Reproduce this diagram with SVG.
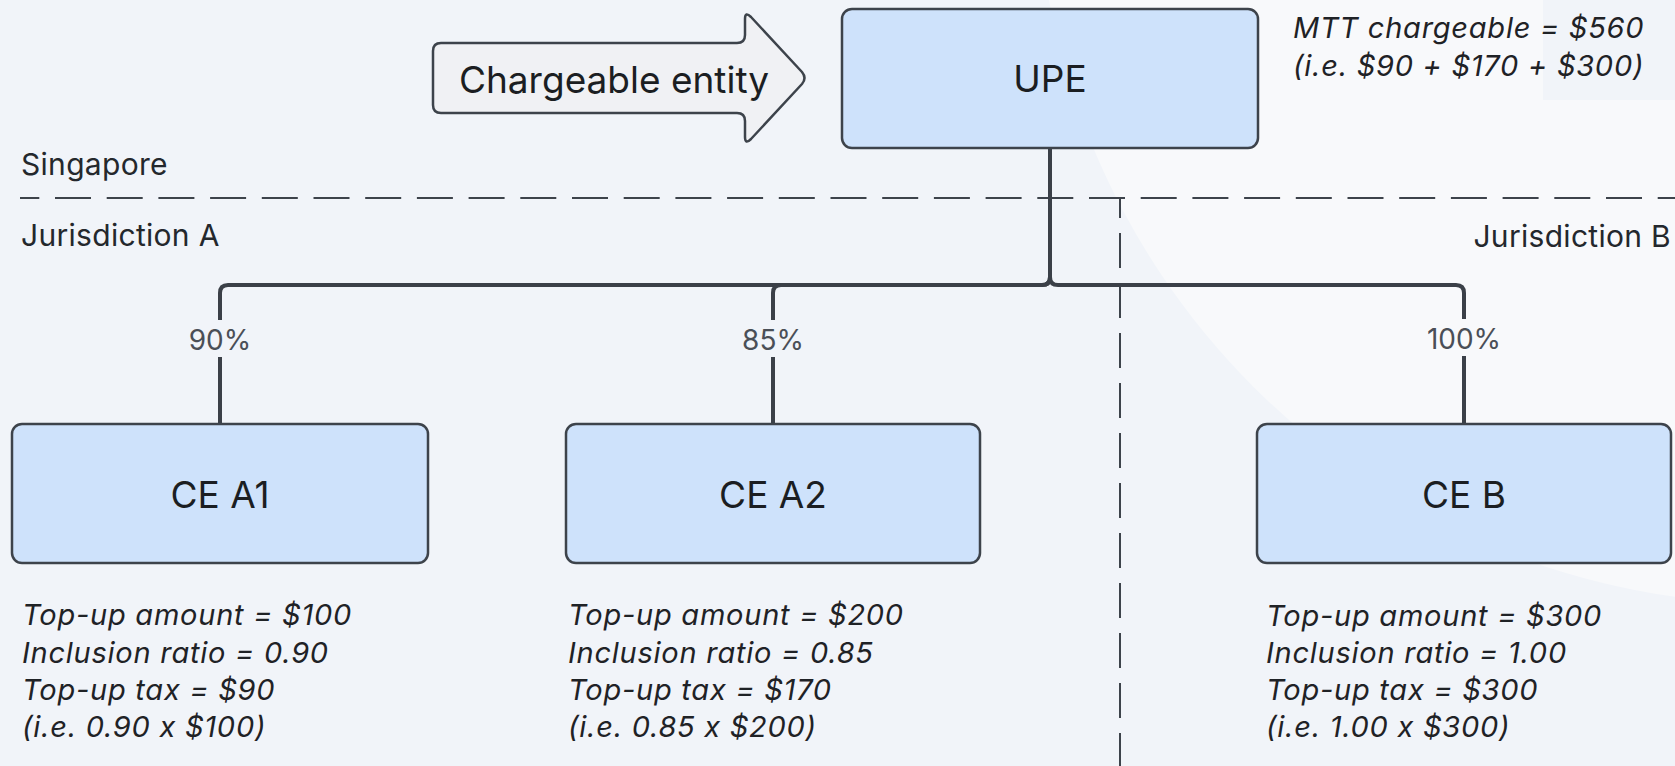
<svg xmlns="http://www.w3.org/2000/svg" width="1675" height="766" viewBox="0 0 1675 766">
  <defs>
    <style>
      .box { fill: #cee2fb; stroke: #3d434b; stroke-width: 2.5; }
      .title { font-family: Inter, "Liberation Sans", sans-serif; font-size: 37px; fill: #1b1e22; text-anchor: middle; }
      .region { font-family: Inter, "Liberation Sans", sans-serif; font-size: 30px; letter-spacing: 0.3px; fill: #24282d; }
      .pct { font-family: Inter, "Liberation Sans", sans-serif; font-size: 28px; fill: #4a4f57; text-anchor: middle; }
      .note { font-family: Inter, "Liberation Sans", sans-serif; font-size: 29px; letter-spacing: 0.75px; font-style: italic; fill: #1f2226; }
      .link { fill: none; stroke: #3b4048; stroke-width: 4; stroke-linejoin: round; }
      .border { fill: none; stroke: #3d434b; stroke-width: 2; }
    </style>
  </defs>

  <!-- backdrop -->
  <rect width="1675" height="766" fill="#f1f4f9"/>
  <circle cx="1778" cy="-138" r="742" fill="#f8f9fb"/>
  <rect x="1543" y="0" width="132" height="100" fill="#f1f4f9"/>

  <!-- jurisdiction borders -->
  <g id="borders">
    <line class="border" x1="20" y1="198" x2="1675" y2="198" stroke-dasharray="36 15.7" stroke-dashoffset="16.7"/>
    <line class="border" x1="1120" y1="198" x2="1120" y2="766" stroke-dasharray="35 15" stroke-dashoffset="15"/>
  </g>

  <g id="region-labels">
    <text class="region" x="21" y="175">Singapore</text>
    <text class="region" x="21" y="246">Jurisdiction A</text>
    <text class="region" x="1671" y="247" text-anchor="end">Jurisdiction B</text>
  </g>

  <!-- ownership connectors -->
  <g id="connectors">
    <path class="link" d="M1050,148 V277 Q1050,285 1042,285 H228 Q220,285 220,293 V320"/>
    <path class="link" d="M220,357 V424"/>
    <path class="link" d="M1050,277 Q1050,285 1042,285 H781 Q773,285 773,293 V320"/>
    <path class="link" d="M773,357 V424"/>
    <path class="link" d="M1050,277 Q1050,285 1058,285 H1456 Q1464,285 1464,293 V319"/>
    <path class="link" d="M1464,356 V424"/>
    <text class="pct" x="220" y="350">90%</text>
    <text class="pct" x="773" y="350">85%</text>
    <text class="pct" x="1464" y="349">100%</text>
  </g>

  <!-- callout arrow -->
  <g id="chargeable-entity">
    <path d="M441,43 H737 Q745,43 745,35 V19 Q745,11 751,17 L802,72 Q807,78 802,84 L751,139 Q745,145 745,137 V121 Q745,113 737,113 H441 Q433,113 433,105 V51 Q433,43 441,43 Z" fill="#f0f1f4" stroke="#3d434b" stroke-width="2.5" stroke-linejoin="round"/>
    <text class="title" x="614" y="93" font-size="38.5">Chargeable entity</text>
  </g>

  <g id="upe">
    <rect class="box" x="842" y="9" width="416" height="139" rx="10"/>
    <text class="title" x="1050" y="92">UPE</text>
  </g>
  <g id="upe-note">
    <text class="note" x="1293" y="38">MTT chargeable = $560</text>
    <text class="note" x="1293" y="75.5">(i.e. $90 + $170 + $300)</text>
  </g>

  <g id="ce-a1">
    <rect class="box" x="12" y="424" width="416" height="139" rx="10"/>
    <text class="title" x="220" y="508">CE A1</text>
    <text class="note" x="22" y="625">Top-up amount = $100</text>
    <text class="note" x="22" y="662.5">Inclusion ratio = 0.90</text>
    <text class="note" x="22" y="700">Top-up tax = $90</text>
    <text class="note" x="22" y="737">(i.e. 0.90 x $100)</text>
  </g>

  <g id="ce-a2">
    <rect class="box" x="566" y="424" width="414" height="139" rx="10"/>
    <text class="title" x="773" y="508">CE A2</text>
    <text class="note" x="568" y="625">Top-up amount = $200</text>
    <text class="note" x="568" y="662.5">Inclusion ratio = 0.85</text>
    <text class="note" x="568" y="700">Top-up tax = $170</text>
    <text class="note" x="568" y="737">(i.e. 0.85 x $200)</text>
  </g>

  <g id="ce-b">
    <rect class="box" x="1257" y="424" width="414" height="139" rx="10"/>
    <text class="title" x="1464" y="508">CE B</text>
    <text class="note" x="1266" y="626">Top-up amount = $300</text>
    <text class="note" x="1266" y="663">Inclusion ratio = 1.00</text>
    <text class="note" x="1266" y="700">Top-up tax = $300</text>
    <text class="note" x="1266" y="737">(i.e. 1.00 x $300)</text>
  </g>
</svg>
